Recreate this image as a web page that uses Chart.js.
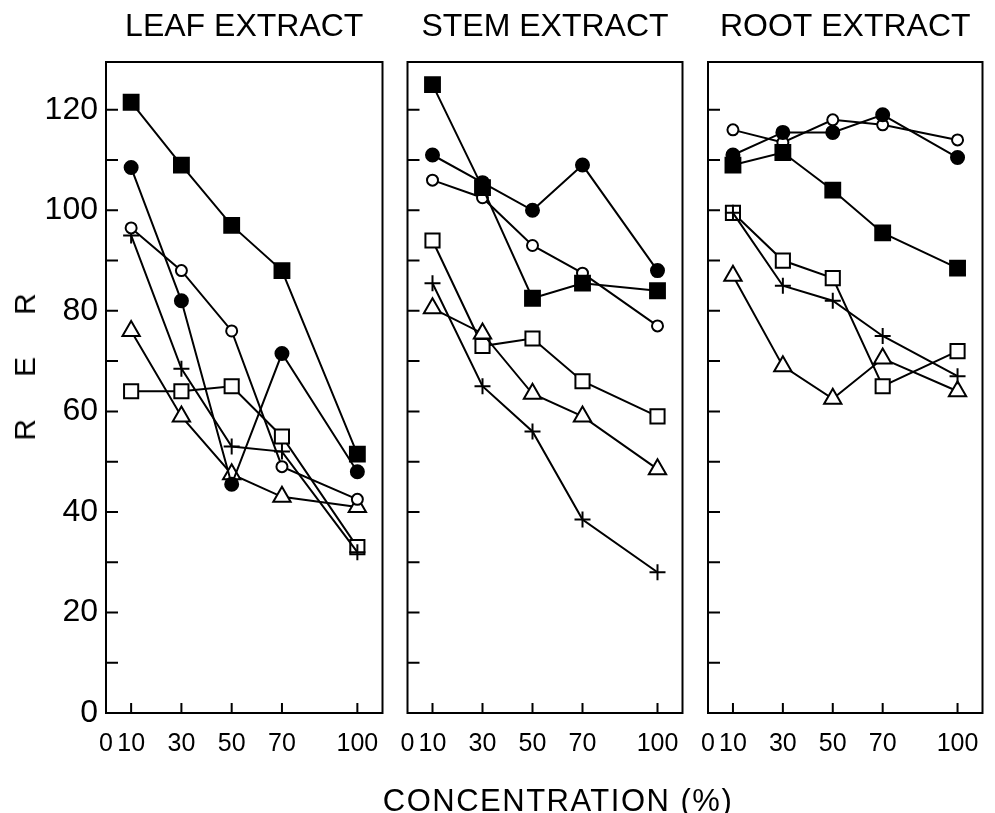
<!DOCTYPE html>
<html>
<head>
<meta charset="utf-8">
<script src="https://cdn.jsdelivr.net/npm/chart.js@4.4.0/dist/chart.umd.min.js"></script>
<style>
  body { margin: 0; background: #fff; }
  #page { position: relative; width: 995px; height: 813px; overflow: hidden; font-family: 'Liberation Sans', Arial, sans-serif; color: #000; }
  .panel { position: absolute; top: 0; }
  #yTitle {
    position: absolute; left: 25px; top: 367px;
    transform: translate(-50%, -50%) rotate(-90deg);
    font-size: 30px; letter-spacing: 42px; padding-left: 42px; white-space: nowrap; line-height: 1;
  }
  #xTitle {
    position: absolute; left: 558px; top: 800px;
    transform: translate(-50%, -50%);
    font-size: 31px; letter-spacing: 1.5px; white-space: nowrap; line-height: 1;
  }
</style>
</head>
<body>
<div id="page">
  <canvas class="panel" id="leaf" width="395" height="813" style="left:0"></canvas>
  <canvas class="panel" id="stem" width="300" height="813" style="left:395px"></canvas>
  <canvas class="panel" id="root" width="300" height="813" style="left:695px"></canvas>
  <div id="yTitle">RER</div>
  <div id="xTitle">CONCENTRATION (%)</div>
</div>
<script>
// concentration (%) on x, RER on y
const concentrations = [10, 30, 50, 70, 100];
const xTickValues = [0, 10, 30, 50, 70, 100];
const yTickValues = [0, 20, 40, 60, 80, 100, 120];
const yTickMarks = [10, 20, 30, 40, 50, 60, 70, 80, 90, 100, 110, 120];
const panelTitles = ['LEAF EXTRACT', 'STEM EXTRACT', 'ROOT EXTRACT'];

// leaf extract
const leafFilledSquare = [121.5, 109, 97, 88, 51.5];
const leafFilledCircle = [108.5, 82, 45.5, 71.5, 48];
const leafOpenCircle = [96.5, 88, 76, 49, 42.5];
const leafPlus = [95, 68.5, 53, 52, 32];
const leafTriangle = [76, 59, 47.5, 43, 41];
const leafOpenSquare = [64, 64, 65, 55, 33];

// stem extract
const stemFilledSquare = [125, 104.5, 82.5, 85.5, 84];
const stemFilledCircle = [111, 105.5, 100, 109, 88];
const stemOpenCircle = [106, 102.5, 93, 87.5, 77];
const stemPlus = [85.5, 65, 56, 38.5, 28];
const stemTriangle = [80.5, 75.5, 63.5, 59, 48.5];
const stemOpenSquare = [94, 73, 74.5, 66, 59];

// root extract
const rootFilledSquare = [109, 111.5, 104, 95.5, 88.5];
const rootFilledCircle = [111, 115.5, 115.5, 119, 110.5];
const rootOpenCircle = [116, 113.5, 118, 117, 114];
const rootPlus = [99.5, 85, 82, 75, 67];
const rootTriangle = [87, 69, 62.5, 70.5, 64];
const rootOpenSquare = [99.5, 90, 86.5, 65, 72];

// marker look for each series, same order in every panel
const markerStyles = [
  { pointStyle: 'rect', radius: 10.5, background: '#000' },
  { pointStyle: 'circle', radius: 6.5, background: '#000' },
  { pointStyle: 'circle', radius: 5.5, background: '#fff' },
  { pointStyle: 'cross', radius: 8, background: '#fff' },
  { pointStyle: 'triangle', radius: 10, background: '#fff' },
  { pointStyle: 'rect', radius: 10, background: '#fff' }
];

Chart.defaults.font.family = "'Liberation Sans', Arial, sans-serif";
Chart.defaults.color = '#000';

// box round the plot area and the short inward ticks
const frame = {
  id: 'frame',
  beforeDatasetsDraw(chart) {
    const { ctx, chartArea: a, scales: { x, y } } = chart;
    ctx.save();
    ctx.strokeStyle = '#000';
    ctx.lineWidth = 2;
    ctx.strokeRect(a.left, a.top, a.right - a.left, a.bottom - a.top);
    ctx.beginPath();
    yTickMarks.forEach(v => {
      const py = y.getPixelForValue(v);
      ctx.moveTo(a.left, py);
      ctx.lineTo(a.left + 12, py);
    });
    concentrations.forEach(v => {
      const px = x.getPixelForValue(v);
      ctx.moveTo(px, a.bottom);
      ctx.lineTo(px, a.bottom - 10);
    });
    ctx.stroke();
    ctx.restore();
  }
};

function makePanel(id, title, series, axisWidth, rightPad, showY) {
  const datasets = series.map((values, i) => ({
    data: values.map((v, j) => ({ x: concentrations[j], y: v })),
    borderColor: '#000',
    borderWidth: 2,
    backgroundColor: markerStyles[i].background,
    pointStyle: markerStyles[i].pointStyle,
    pointRadius: markerStyles[i].radius,
    pointBorderWidth: 2,
    pointBorderColor: '#000',
    pointBackgroundColor: markerStyles[i].background,
    tension: 0,
    fill: false
  }));

  return new Chart(document.getElementById(id), {
    type: 'line',
    data: { datasets },
    plugins: [frame],
    options: {
      responsive: false,
      animation: false,
      events: [],
      layout: { padding: { left: 0, right: rightPad, top: 0, bottom: 0 } },
      plugins: {
        legend: { display: false },
        tooltip: { enabled: false },
        title: {
          display: true,
          text: title,
          fullSize: false,
          color: '#000',
          font: { size: 32, weight: 'normal', lineHeight: 1.1 },
          padding: { top: 10, bottom: 16.8 }
        }
      },
      scales: {
        x: {
          type: 'linear',
          min: 0,
          max: 110,
          grid: { display: false, drawTicks: false },
          border: { display: false },
          afterBuildTicks: s => { s.ticks = xTickValues.map(v => ({ value: v })); },
          afterFit: s => { s.height = 100; s.paddingLeft = 0; s.paddingRight = 0; },
          ticks: {
            autoSkip: false,
            maxRotation: 0,
            padding: 16,
            font: { size: 25 },
            callback: v => String(v)
          }
        },
        y: {
          type: 'linear',
          min: 0,
          max: 129.5,
          grid: { display: false, drawTicks: false },
          border: { display: false },
          afterBuildTicks: s => { s.ticks = yTickValues.map(v => ({ value: v })); },
          afterFit: s => { s.width = axisWidth; s.paddingTop = 0; s.paddingBottom = 0; },
          ticks: {
            display: showY,
            padding: 8,
            font: { size: 32 },
            callback: v => String(v)
          }
        }
      }
    }
  });
}

makePanel('leaf', panelTitles[0],
  [leafFilledSquare, leafFilledCircle, leafOpenCircle, leafPlus, leafTriangle, leafOpenSquare],
  106, 11, true);
makePanel('stem', panelTitles[1],
  [stemFilledSquare, stemFilledCircle, stemOpenCircle, stemPlus, stemTriangle, stemOpenSquare],
  11, 11, false);
makePanel('root', panelTitles[2],
  [rootFilledSquare, rootFilledCircle, rootOpenCircle, rootPlus, rootTriangle, rootOpenSquare],
  13, 10, false);
</script>
</body>
</html>
